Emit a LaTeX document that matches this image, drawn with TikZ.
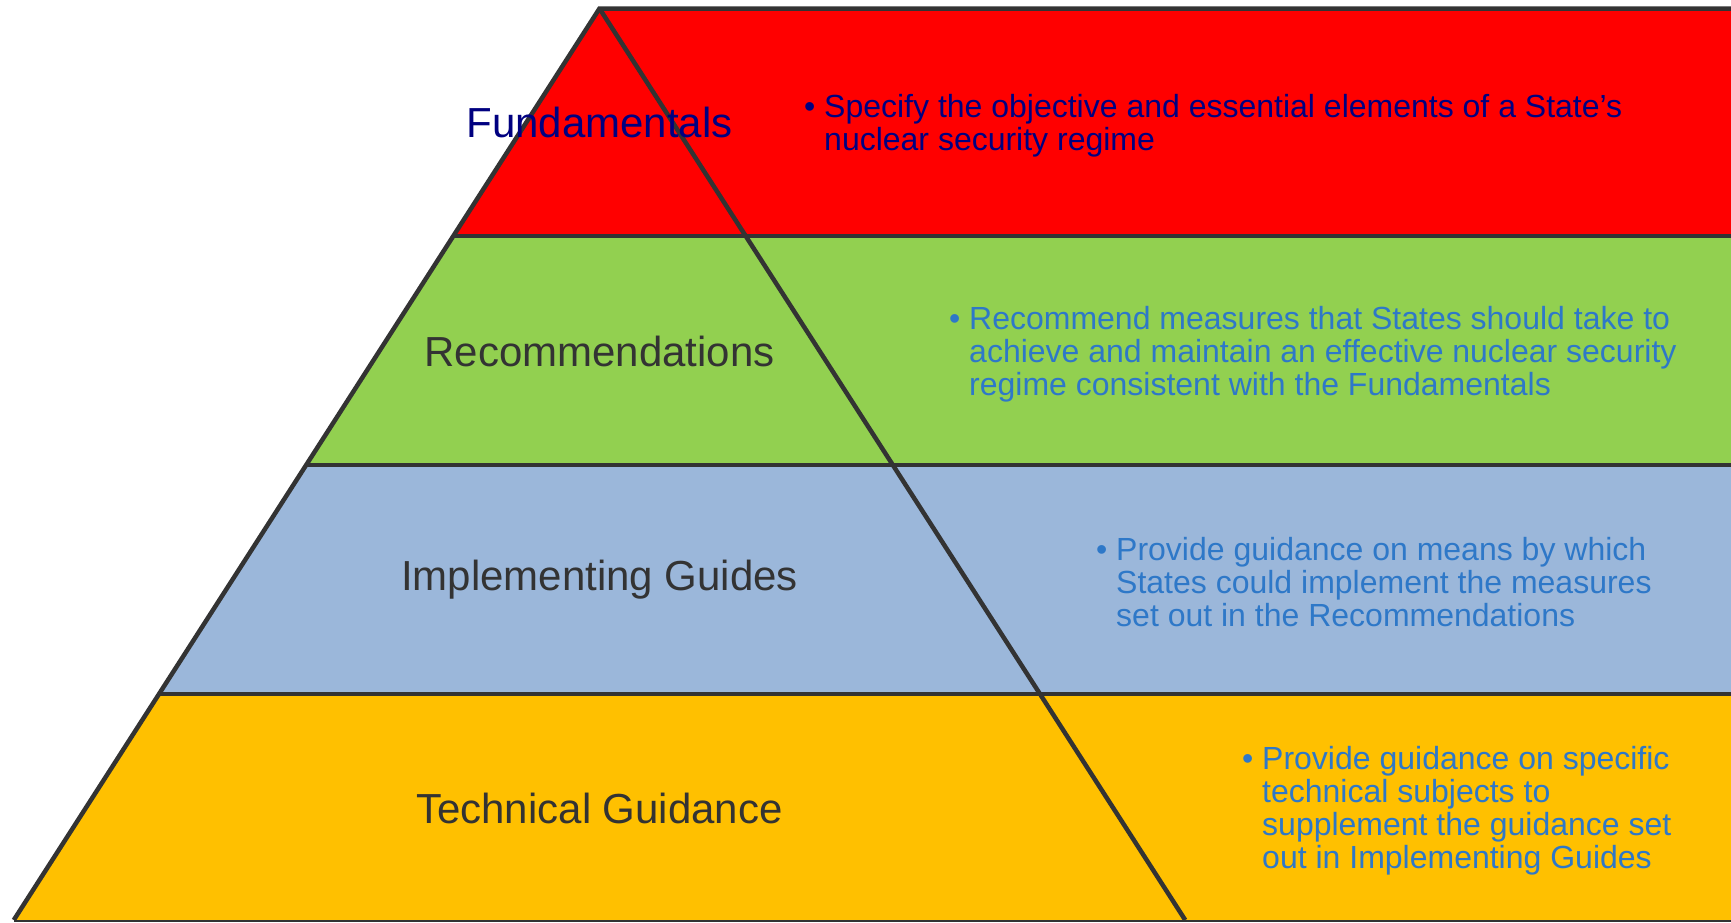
\documentclass[tikz,border=0pt]{standalone}
\usepackage{fontspec}
\setmainfont{Liberation Sans}
\usepackage{xcolor}
\definecolor{rowred}{HTML}{FF0000}
\definecolor{rowgreen}{HTML}{92D050}
\definecolor{rowblue}{HTML}{9BB7DA}
\definecolor{rowgold}{HTML}{FFC000}
\definecolor{edgegray}{HTML}{333333}
\definecolor{navytext}{HTML}{000080}
\definecolor{bluetext}{HTML}{2E78C8}
\definecolor{graytext}{HTML}{333333}

\begin{document}
\begin{tikzpicture}[x=1pt,y=1pt,yscale=-1,xscale=1,
  edge/.style={draw=edgegray,line width=4.5pt},
  levelname/.style={inner sep=0pt,font=\fontsize{42}{46}\selectfont},
  bullettext/.style={anchor=west,inner sep=0pt,align=left,font=\fontsize{32}{33}\selectfont}]
\useasboundingbox (0,0) rectangle (1731,922);

%Shape: band Fundamentals
\fill[rowred] (599.5,8.5) -- (1740,8.5) -- (1740,236) -- (453.3,236) -- cycle;
%Shape: band Recommendations
\fill[rowgreen] (453.3,236) -- (1740,236) -- (1740,465) -- (306.2,465) -- cycle;
%Shape: band Implementing Guides
\fill[rowblue] (306.2,465) -- (1740,465) -- (1740,694) -- (159,694) -- cycle;
%Shape: band Technical Guidance
\fill[rowgold] (159,694) -- (1740,694) -- (1740,920) -- (13.8,920) -- cycle;

%Straight Lines: outline
\draw[edge] (1740,8.5) -- (599.5,8.5) -- (13.8,920);
\draw[edgegray,line width=2.5pt] (13.8,921) -- (1740,921);
%Straight Lines: inner side
\draw[edge] (599.5,8.5) -- (1185.2,920);
%Straight Lines: band borders
\draw[edge] (453.3,236) -- (1740,236);
\draw[edge] (306.2,465) -- (1740,465);
\draw[edge] (159,694) -- (1740,694);

% Text Node
\node (fundname) [levelname,text=navytext] at (599.5,122) {Fundamentals};
% Text Node
\node (recname) [levelname,text=graytext] at (599.5,351) {Recommendations};
% Text Node
\node (implname) [levelname,text=graytext] at (599.5,580) {Implementing Guides};
% Text Node
\node (techname) [levelname,text=graytext] at (599.5,808) {Technical Guidance};

% Text Node
\node (funddesc) [bullettext,text=navytext] at (824,126)
  {\llap{•\hspace{9pt}}Specify the objective and essential elements of a State’s\\nuclear security regime};
% Text Node
\node (recdesc) [bullettext,text=bluetext] at (969,354)
  {\llap{•\hspace{9pt}}Recommend measures that States should take to\\achieve and maintain an effective nuclear security\\regime consistent with the Fundamentals};
% Text Node
\node (impldesc) [bullettext,text=bluetext] at (1116,582)
  {\llap{•\hspace{9pt}}Provide guidance on means by which\\States could implement the measures\\set out in the Recommendations};
% Text Node
\node (techdesc) [bullettext,text=bluetext] at (1262,811)
  {\llap{•\hspace{9pt}}Provide guidance on specific\\technical subjects to\\supplement the guidance set\\out in Implementing Guides};

\end{tikzpicture}
\end{document}
